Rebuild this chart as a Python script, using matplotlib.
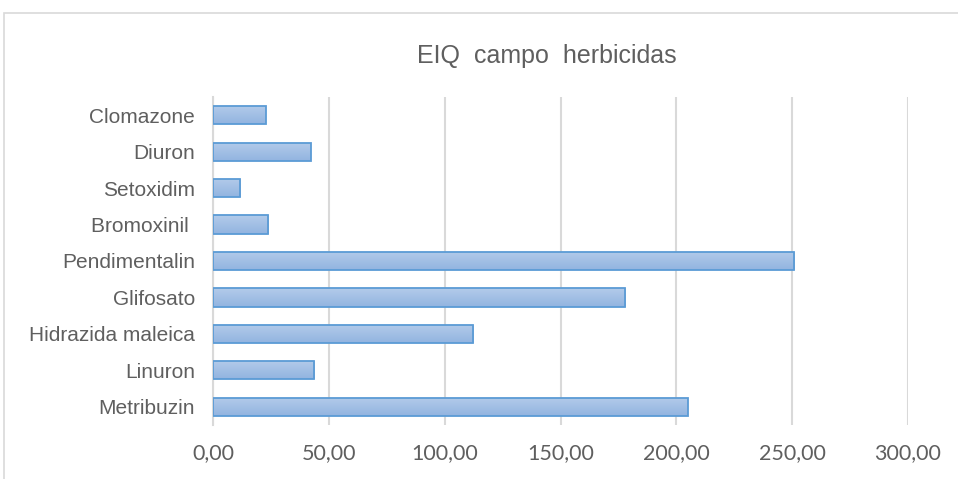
import matplotlib.pyplot as plt
import numpy as np
from matplotlib.patches import Rectangle
from matplotlib.ticker import FuncFormatter

herbicidas = ["Clomazone", "Diuron", "Setoxidim", "Bromoxinil ", "Pendimentalin",
              "Glifosato", "Hidrazida maleica", "Linuron", "Metribuzin"]
eiq = [22.7, 42.3, 11.7, 23.9, 251.0, 178.0, 112.4, 43.6, 205.0]
ticks = [0, 50, 100, 150, 200, 250, 300]

gris = "#5f5f5f"
linea = "#d9d9d9"

fig = plt.figure(figsize=(9.58, 4.79), dpi=100)
ax = fig.add_axes([213 / 958, 1 - 425 / 479, 695 / 958, 328 / 479])

# marco del grafico
fig.patches.append(Rectangle((4 / 958, -0.1), 1.1, 1 - 13 / 479 + 0.1, transform=fig.transFigure,
                             fill=False, edgecolor=linea, linewidth=1.2))

y = np.arange(len(herbicidas))
bars = ax.barh(y, eiq, height=0.5, color="#a3c0e6", edgecolor="#5b9bd5", linewidth=1.3, zorder=3)

grad = np.linspace(0, 1, 50).reshape(-1, 1)
cmap = plt.matplotlib.colors.LinearSegmentedColormap.from_list("g", ["#b3cbea", "#92b4e0"])
for b in bars:
    x0, y0 = b.get_x(), b.get_y()
    w, h = b.get_width(), b.get_height()
    im = ax.imshow(grad, cmap=cmap, aspect="auto", extent=(x0, x0 + w, y0 + h, y0),
                   zorder=3.5, interpolation="bilinear")
    im.set_clip_path(b)
    b.set_facecolor("none")
    b.set_zorder(4)

ax.set_xlim(0, 300)
ax.set_ylim(len(herbicidas) - 0.5, -0.5)
ax.set_xticks(ticks)
ax.xaxis.set_major_formatter(FuncFormatter(lambda v, p: f"{v:.2f}".replace(".", ",")))
ax.set_yticks(y)
ax.set_yticklabels(herbicidas, fontfamily="Liberation Sans", fontsize=15, color=gris)
for lab in ax.get_xticklabels():
    lab.set_fontfamily("Lato")
    lab.set_fontsize(15.5)
    lab.set_color(gris)
ax.tick_params(axis="both", length=0)
ax.tick_params(axis="x", pad=13)
ax.tick_params(axis="y", pad=13)
ax.grid(axis="x", color=linea, linewidth=1.5, zorder=0)
for s in ["top", "right", "bottom"]:
    ax.spines[s].set_visible(False)
ax.spines["left"].set_color(linea)
ax.spines["left"].set_linewidth(1.5)

fig.text(547 / 958, 1 - 56 / 479, "EIQ  campo  herbicidas", ha="center", va="center",
         fontfamily="Liberation Sans", fontsize=18, color=gris)

fig.savefig("out.png", dpi=100)
